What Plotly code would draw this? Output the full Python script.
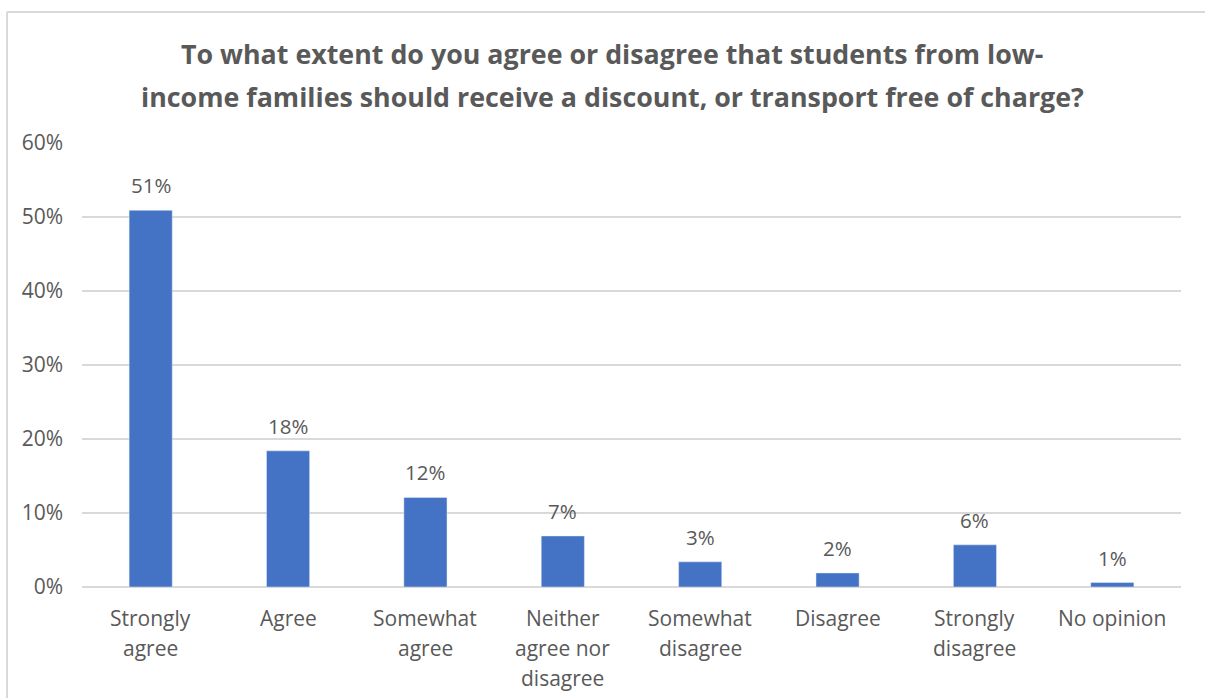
import plotly.graph_objects as go

categories = ["Strongly agree", "Agree", "Somewhat agree", "Neither agree nor disagree",
              "Somewhat disagree", "Disagree", "Strongly disagree", "No opinion"]
label_lines = [["Strongly", "agree"], ["Agree"], ["Somewhat", "agree"],
               ["Neither", "agree nor", "disagree"], ["Somewhat", "disagree"],
               ["Disagree"], ["Strongly", "disagree"], ["No opinion"]]
values = [50.9, 18.4, 12.1, 6.9, 3.4, 1.9, 5.7, 0.6]
y_ticks = [0, 10, 20, 30, 40, 50, 60]
title_lines = ["To what extent do you agree or disagree that students from low-",
               "income families should receive a discount, or transport free of charge?"]

TXT = "#595959"
GRID = "#D9D9D9"
FONT = "Open Sans"

W, H = 1205, 698
ML, MR, MT, MB = 82, 24, 143, 111
PW = W - ML - MR
PH = H - MT - MB

def px_x(p):
    return (p - ML) / PW

def px_y(p):
    return (H - MB - p) / PH

fig = go.Figure()
fig.add_trace(go.Bar(x=categories, y=values, marker_color="#4472C4",
                     hoverinfo="skip"))

annotations = []
for c, v in zip(categories, values):
    annotations.append(dict(x=c, y=v, xref="x", yref="y", text=f"{round(v)}%",
                            showarrow=False, yanchor="bottom", yshift=9,
                            font=dict(family=FONT, size=20.5, color=TXT)))
for c, lines in zip(categories, label_lines):
    for i, ln in enumerate(lines):
        annotations.append(dict(x=c, y=0, xref="x", yref="y", text=ln,
                                showarrow=False, yanchor="top", yshift=-15 - 30 * i,
                                font=dict(family=FONT, size=21, color=TXT)))
for i, t in enumerate(title_lines):
    annotations.append(dict(x=px_x(612), y=px_y(53 + 44 * i), xref="paper", yref="paper",
                            text=f"<b>{t}</b>", showarrow=False, yanchor="middle",
                            xanchor="center",
                            font=dict(family=FONT, size=26.8, color=TXT)))

shapes = [
    dict(type="line", xref="paper", yref="paper", x0=px_x(7), x1=px_x(1210),
         y0=px_y(12), y1=px_y(12), line=dict(color=GRID, width=2)),
    dict(type="line", xref="paper", yref="paper", x0=px_x(7), x1=px_x(7),
         y0=px_y(12), y1=px_y(710), line=dict(color=GRID, width=2)),
]

fig.update_layout(
    width=W, height=H,
    margin=dict(l=ML, r=MR, t=MT, b=MB),
    paper_bgcolor="white", plot_bgcolor="white",
    bargap=0.686,
    showlegend=False,
    annotations=annotations,
    shapes=shapes,
    font=dict(family=FONT, color=TXT),
)
fig.update_xaxes(showticklabels=False, showgrid=False, showline=False, ticks="")
fig.update_yaxes(range=[0, 60], tickvals=y_ticks, ticktext=[f"{t}%" for t in y_ticks],
                 showgrid=True, gridcolor=GRID, gridwidth=1.5, zeroline=True,
                 zerolinecolor=GRID, zerolinewidth=2, showline=False, ticks="",
                 ticklabelstandoff=18, tickfont=dict(family=FONT, size=21, color=TXT))

fig.write_html("out.html")
